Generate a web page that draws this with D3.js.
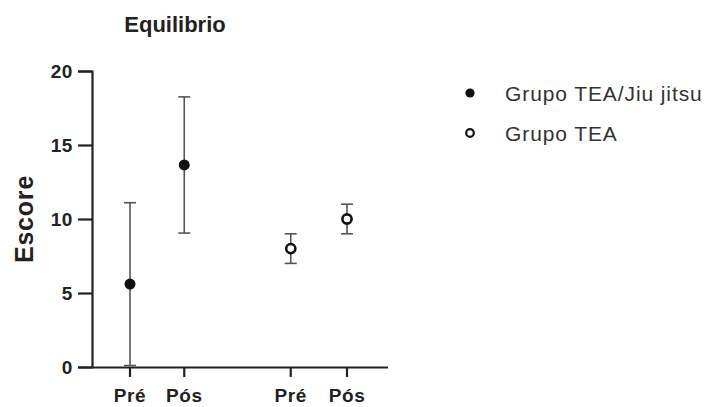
<!DOCTYPE html>
<html>
<head>
<meta charset="utf-8">
<script src="https://cdn.jsdelivr.net/npm/d3@7"></script>
<style>
  html, body { margin: 0; padding: 0; background: #fff; }
  svg { display: block; font-family: Arial, "Liberation Sans", sans-serif; }
</style>
</head>
<body>
<svg id="chart" width="713" height="407"></svg>
<script>
// Balance score (mean with error range) before and after, per group
const positions = ["Pré1", "Pós1", "Pré2", "Pós2"];
const tickLabels = ["Pré", "Pós", "Pré", "Pós"];
const groups = ["Grupo TEA/Jiu jitsu", "Grupo TEA"];
const pointGroup = [0, 0, 1, 1];
const means = [5.6, 13.65, 8.0, 10.0];
const lowers = [0.1, 9.05, 7.0, 9.0];
const uppers = [11.1, 18.25, 9.0, 11.0];
const yTicks = [0, 5, 10, 15, 20];

const points = positions.map((p, i) => ({
  pos: p, group: pointGroup[i], mean: means[i], lo: lowers[i], hi: uppers[i]
}));

const svg = d3.select("#chart");
const margin = { left: 92, top: 71, right: 325, bottom: 40 };
const W = 713, H = 407;

const y = d3.scaleLinear().domain([0, 20]).range([H - margin.bottom, margin.top]);
const x = d3.scalePoint().domain(["Pré1", "Pós1", "gap", "Pré2", "Pós2"])
  .range([130, 347]);
// the second pair sits a little closer together than a full step
const xPos = p => (p === "Pré2" ? x(p) - 2 : x(p));

const axisColor = "#222";
const errColor = "#555";

// Y axis
const yAxis = svg.append("g").attr("transform", `translate(${margin.left},0)`)
  .call(d3.axisLeft(y).tickValues(yTicks).tickSize(14).tickPadding(5));
yAxis.select(".domain").attr("stroke", axisColor).attr("stroke-width", 2.2);
yAxis.selectAll(".tick line").attr("stroke", axisColor).attr("stroke-width", 2.2);
yAxis.selectAll(".tick text")
  .attr("fill", "#222").style("font-size", "19px").style("font-weight", "bold")
  .style("letter-spacing", "0.6px");

// X axis
const xAxis = svg.append("g").attr("transform", `translate(0,${y(0)})`)
  .call(d3.axisBottom(x).tickValues(positions).tickSize(10).tickPadding(12)
    .tickFormat((d, i) => tickLabels[i]));
xAxis.select(".domain").attr("d", `M${margin.left},0.5H388`)
  .attr("stroke", axisColor).attr("stroke-width", 2.2);
xAxis.selectAll(".tick").attr("transform", d => `translate(${xPos(d)},0)`);
xAxis.selectAll(".tick line").attr("stroke", axisColor).attr("stroke-width", 2.2);
xAxis.selectAll(".tick text")
  .attr("fill", "#222").style("font-size", "19px").style("font-weight", "bold")
  .style("letter-spacing", "0.6px");

// Error bars
const capHalf = 6;
const eb = svg.append("g").selectAll("g").data(points).join("g")
  .attr("stroke", errColor).attr("stroke-width", 1.6);
eb.append("line")
  .attr("x1", d => xPos(d.pos)).attr("x2", d => xPos(d.pos))
  .attr("y1", d => y(d.lo)).attr("y2", d => y(d.hi));
eb.append("line")
  .attr("x1", d => xPos(d.pos) - capHalf).attr("x2", d => xPos(d.pos) + capHalf)
  .attr("y1", d => y(d.hi)).attr("y2", d => y(d.hi));
eb.append("line")
  .attr("x1", d => xPos(d.pos) - capHalf).attr("x2", d => xPos(d.pos) + capHalf)
  .attr("y1", d => y(d.lo)).attr("y2", d => y(d.lo));

// Means
svg.append("g").selectAll("circle").data(points).join("circle")
  .attr("cx", d => xPos(d.pos)).attr("cy", d => y(d.mean))
  .attr("r", d => d.group === 0 ? 5.5 : 4.6)
  .attr("fill", d => d.group === 0 ? "#111" : "#fff")
  .attr("stroke", "#111")
  .attr("stroke-width", d => d.group === 0 ? 0 : 2.6);

// Title
svg.append("text").attr("x", 175).attr("y", 32).attr("text-anchor", "middle")
  .attr("fill", "#222").style("font-size", "22px").style("font-weight", "bold")
  .text("Equilibrio");

// Y label
svg.append("text")
  .attr("transform", `translate(33,${y(10)}) rotate(-90)`)
  .attr("text-anchor", "middle").attr("fill", "#222")
  .style("font-size", "25px").style("font-weight", "bold")
  .style("letter-spacing", "0.8px")
  .text("Escore");

// Legend
const legend = svg.append("g").selectAll("g").data(groups).join("g")
  .attr("transform", (d, i) => `translate(470,${93 + i * 40})`);
legend.append("circle")
  .attr("r", (d, i) => i === 0 ? 4.6 : 3.8)
  .attr("fill", (d, i) => i === 0 ? "#111" : "#fff")
  .attr("stroke", "#111")
  .attr("stroke-width", (d, i) => i === 0 ? 0 : 2.2);
legend.append("text").attr("x", 35).attr("y", 7.5)
  .attr("fill", "#333").style("font-size", "21px")
  .style("letter-spacing", "0.9px")
  .text(d => d);
</script>
</body>
</html>
